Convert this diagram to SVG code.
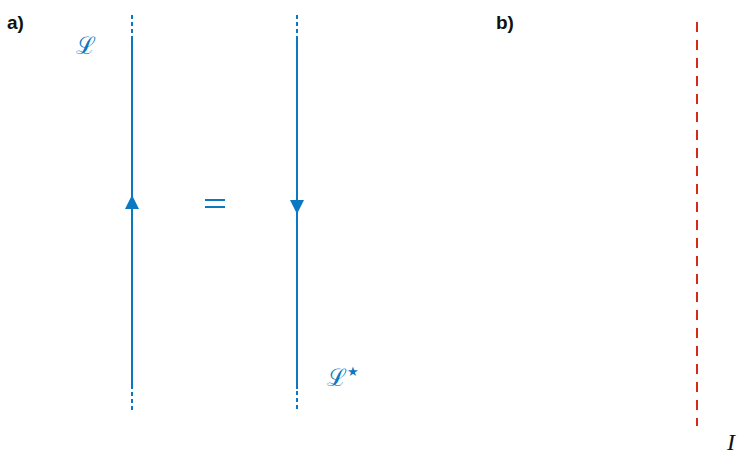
<svg xmlns="http://www.w3.org/2000/svg" width="744" height="457" viewBox="0 0 744 457">
<style>
.lbl{font-family:"Liberation Sans",Arial,sans-serif;font-weight:bold;font-size:19px;fill:#111}
.blue{stroke:#0b79c1;stroke-width:2;fill:none}
.dot{stroke:#0b79c1;stroke-width:2;stroke-dasharray:4 3;fill:none}
.arr{fill:#0b79c1}
.script{font-family:"DejaVu Serif","Noto Sans",serif;font-style:italic;font-size:24px;fill:#0b79c1}
.red{stroke:#d42a1c;stroke-width:2;stroke-dasharray:10 8;fill:none}
</style>
<rect width="744" height="457" fill="#fff"/>
<text class="lbl" x="7" y="29">a)</text>
<text class="lbl" x="496" y="29">b)</text>
<g id="left-line">
<line class="dot" x1="132" y1="15" x2="132" y2="36"/>
<line class="blue" x1="132" y1="36" x2="132" y2="389"/>
<line class="dot" x1="132" y1="392" x2="132" y2="412"/>
<polygon class="arr" points="132,195 125,209 139,209"/>
</g>
<g id="right-line">
<line class="dot" x1="297" y1="15" x2="297" y2="36"/>
<line class="blue" x1="297" y1="36" x2="297" y2="389"/>
<line class="dot" x1="297" y1="391" x2="297" y2="410"/>
<polygon class="arr" points="290,200 304,200 297,214"/>
</g>
<g id="equals">
<line class="blue" x1="205" y1="200" x2="225" y2="200"/>
<line class="blue" x1="205" y1="207" x2="225" y2="207"/>
</g>
<text class="script" x="76" y="54">ℒ</text>
<text class="script" x="327" y="386">ℒ<tspan font-size="13" dy="-10" font-style="normal">★</tspan></text>
<g id="red-line">
<line class="red" x1="697" y1="22" x2="697" y2="426"/>
</g>
<text x="727" y="450" font-family="Liberation Serif,serif" font-style="italic" font-size="24" fill="#111">I</text>
</svg>
